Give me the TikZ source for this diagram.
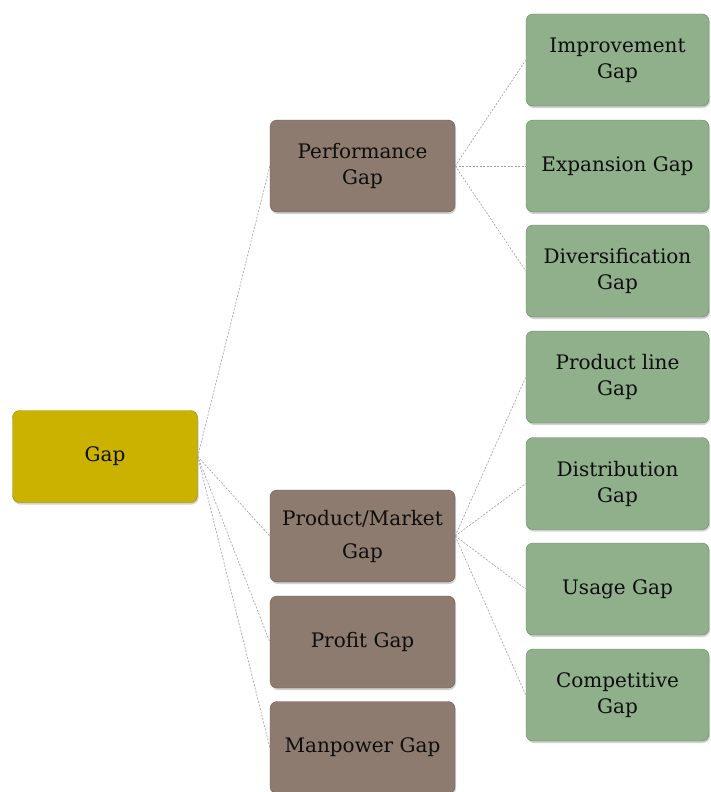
\documentclass[tikz,border=0pt]{standalone}
\usepackage{fontspec}
\setmainfont{DejaVu Serif}
\usetikzlibrary{shadows}
\definecolor{gapyellow}{RGB}{204,178,0}
\definecolor{gapbrown}{RGB}{140,123,110}
\definecolor{gapgreen}{RGB}{143,176,138}
\tikzset{
  box/.style={draw, rounded corners=7pt, minimum width=185pt, minimum height=92pt,
    align=center, inner sep=2pt, text=black!95,
    font=\fontsize{20}{26}\selectfont,
    drop shadow={shadow xshift=1pt, shadow yshift=-2pt, opacity=0.35}},
  rootbox/.style={box, fill=gapyellow, draw=gapyellow!75!black},
  midbox/.style={box, fill=gapbrown, draw=gapbrown!75!black},
  leafbox/.style={box, minimum width=183pt, fill=gapgreen, draw=gapgreen!75!black},
  link/.style={draw=gray!75, line width=0.6pt, dash pattern=on 2pt off 1.5pt}
}
\begin{document}
\begin{tikzpicture}[x=1pt,y=-1pt]
\clip (0,0) rectangle (710,792);
\fill[white] (0,0) rectangle (710,792);

% root
\node[rootbox] (gap) at (105,456.5) {Gap};

% second level
\node[midbox] (perf) at (362.5,166) {Performance\\Gap};
\node[midbox] (prodmkt) at (362.5,536) {Product/Market\\[7pt]Gap};
\node[midbox] (profit) at (362.5,642) {Profit Gap};
\node[midbox] (manpower) at (362.5,747.5) {Manpower Gap};

% third level
\node[leafbox] (improve) at (617.5,60) {Improvement\\Gap};
\node[leafbox] (expand) at (617.5,166) {Expansion Gap};
\node[leafbox] (divers) at (617.5,271) {Diversification\\Gap};
\node[leafbox] (prodline) at (617.5,377) {Product line\\Gap};
\node[leafbox] (distrib) at (617.5,483.5) {Distribution\\Gap};
\node[leafbox] (usage) at (617.5,589) {Usage Gap};
\node[leafbox] (compet) at (617.5,695) {Competitive\\Gap};

% links
\foreach \c in {perf,prodmkt,profit,manpower}
  \draw[link] (gap.east) -- (\c.west);
\foreach \c in {improve,expand,divers}
  \draw[link] (perf.east) -- (\c.west);
\foreach \c in {prodline,distrib,usage,compet}
  \draw[link] (prodmkt.east) -- (\c.west);

\end{tikzpicture}
\end{document}
